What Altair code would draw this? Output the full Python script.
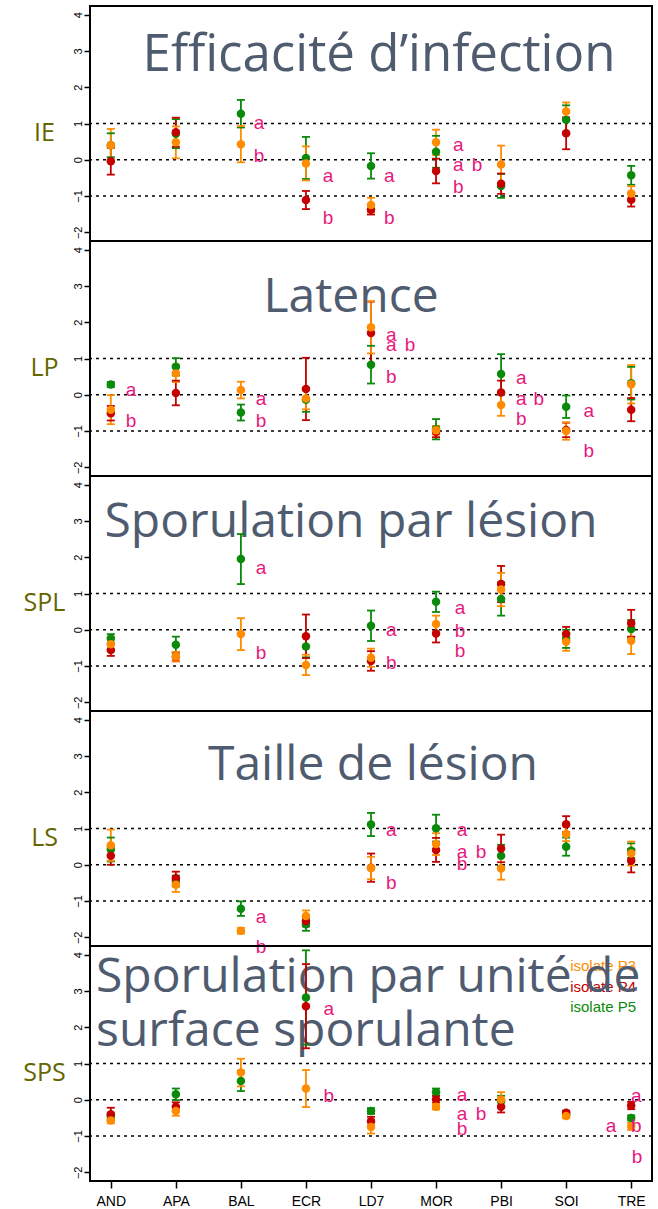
import json
import altair as alt
import pandas as pd

# Cultivars on the x axis
cats = ["AND", "APA", "BAL", "ECR", "LD7", "MOR", "PBI", "SOI", "TRE"]

# Drawing order of the isolates (P3 ends up on top)
draw_order = ["P5", "P4", "P3"]
iso_colors = {"P3": "#FF8C00", "P4": "#C40000", "P5": "#0A8A0A"}

# Standardised means and standard errors per trait and isolate (None = not tested)
ie_mean = {
    "P3": [0.40, 0.48, 0.43, -0.10, -1.25, 0.48, -0.13, 1.33, -0.93],
    "P4": [-0.04, 0.76, None, -1.11, -1.38, -0.31, -0.66, 0.73, -1.10],
    "P5": [0.40, 0.72, 1.27, 0.05, -0.17, 0.22, -0.72, 1.10, -0.43],
}
ie_se = {
    "P3": [0.45, 0.44, 0.50, 0.47, 0.20, 0.35, 0.52, 0.25, 0.20],
    "P4": [0.37, 0.40, None, 0.25, 0.13, 0.34, 0.28, 0.44, 0.19],
    "P5": [0.33, 0.40, 0.38, 0.58, 0.35, 0.44, 0.33, 0.40, 0.26],
}

lp_mean = {
    "P3": [-0.41, 0.59, 0.13, -0.10, 1.86, -0.98, -0.28, -1.00, 0.29],
    "P4": [-0.51, 0.05, None, 0.16, 1.70, -1.02, 0.06, -0.97, -0.41],
    "P5": [0.28, 0.77, -0.49, -0.14, 0.83, -0.95, 0.57, -0.33, 0.32],
}
lp_se = {
    "P3": [0.40, 0.24, 0.23, 0.30, 0.72, 0.12, 0.30, 0.24, 0.53],
    "P4": [0.20, 0.34, None, 0.86, 0.87, 0.15, 0.33, 0.20, 0.32],
    "P5": [0.07, 0.24, 0.22, 0.33, 0.52, 0.28, 0.55, 0.31, 0.45],
}

spl_mean = {
    "P3": [-0.40, -0.74, -0.12, -0.97, -0.77, 0.16, 1.11, -0.33, -0.30],
    "P4": [-0.56, -0.75, None, -0.18, -0.86, -0.10, 1.26, -0.12, 0.18],
    "P5": [-0.24, -0.41, 1.95, -0.46, 0.11, 0.77, 0.85, -0.25, 0.02],
}
spl_se = {
    "P3": [0.20, 0.13, 0.44, 0.28, 0.25, 0.23, 0.46, 0.25, 0.37],
    "P4": [0.16, 0.12, None, 0.60, 0.27, 0.25, 0.50, 0.20, 0.37],
    "P5": [0.12, 0.22, 0.69, 0.30, 0.42, 0.28, 0.46, 0.25, 0.25],
}

ls_mean = {
    "P3": [0.54, -0.55, -1.82, -1.41, -0.09, 0.57, -0.10, 0.85, 0.31],
    "P4": [0.25, -0.37, None, -1.55, -0.08, 0.41, 0.45, 1.12, 0.11],
    "P5": [0.42, -0.45, -1.21, -1.64, 1.11, 1.01, 0.25, 0.50, 0.39],
}
ls_se = {
    "P3": [0.43, 0.20, 0.08, 0.15, 0.31, 0.30, 0.31, 0.20, 0.33],
    "P4": [0.25, 0.18, None, 0.15, 0.39, 0.33, 0.38, 0.22, 0.32],
    "P5": [0.33, 0.15, 0.20, 0.18, 0.32, 0.37, 0.30, 0.25, 0.20],
}

sps_mean = {
    "P3": [-0.57, -0.31, 0.75, 0.31, -0.75, -0.19, 0.01, -0.45, -0.73],
    "P4": [-0.40, -0.19, None, 2.58, -0.59, 0.01, -0.19, -0.36, -0.16],
    "P5": [-0.45, 0.15, 0.52, 2.82, -0.31, 0.21, -0.04, -0.40, -0.50],
}
sps_se = {
    "P3": [0.08, 0.13, 0.38, 0.51, 0.18, 0.08, 0.20, 0.06, 0.10],
    "P4": [0.18, 0.12, None, 1.16, 0.12, 0.10, 0.16, 0.06, 0.10],
    "P5": [0.08, 0.16, 0.28, 1.30, 0.08, 0.10, 0.15, 0.06, 0.07],
}

# Significance letters: (cultivar, baseline value, letter, shift in cultivar units)
ie_letters = [
    ("BAL", 0.86, "a", 0.28), ("BAL", -0.05, "b", 0.28),
    ("ECR", -0.60, "a", 0.34), ("ECR", -1.77, "b", 0.34),
    ("LD7", -0.60, "a", 0.28), ("LD7", -1.77, "b", 0.28),
    ("MOR", 0.23, "a", 0.34), ("MOR", -0.32, "a", 0.34),
    ("MOR", -0.32, "b", 0.63), ("MOR", -0.91, "b", 0.34),
]
lp_letters = [
    ("AND", -0.03, "a", 0.31), ("AND", -0.90, "b", 0.31),
    ("BAL", -0.28, "a", 0.31), ("BAL", -0.90, "b", 0.31),
    ("LD7", 1.49, "a", 0.31), ("LD7", 1.20, "a", 0.31),
    ("LD7", 1.20, "b", 0.60), ("LD7", 0.32, "b", 0.31),
    ("PBI", 0.29, "a", 0.31), ("PBI", -0.28, "a", 0.31),
    ("PBI", -0.28, "b", 0.58), ("PBI", -0.83, "b", 0.31),
    ("SOI", -0.60, "a", 0.35), ("SOI", -1.71, "b", 0.35),
]
spl_letters = [
    ("BAL", 1.54, "a", 0.31), ("BAL", -0.81, "b", 0.31),
    ("LD7", -0.17, "a", 0.31), ("LD7", -1.09, "b", 0.31),
    ("MOR", 0.43, "a", 0.37), ("MOR", -0.19, "b", 0.37),
    ("MOR", -0.76, "b", 0.37),
]
ls_letters = [
    ("BAL", -1.61, "a", 0.31), ("BAL", -2.42, "b", 0.31),
    ("LD7", 0.80, "a", 0.31), ("LD7", -0.67, "b", 0.31),
    ("MOR", 0.80, "a", 0.40), ("MOR", 0.20, "a", 0.40),
    ("MOR", 0.20, "b", 0.69), ("MOR", -0.14, "b", 0.40),
]
sps_letters = [
    ("ECR", 2.34, "a", 0.35), ("ECR", -0.06, "b", 0.35),
    ("MOR", -0.04, "a", 0.40), ("MOR", -0.56, "a", 0.40),
    ("MOR", -0.56, "b", 0.69), ("MOR", -0.96, "b", 0.40),
    ("TRE", -0.06, "a", 0.08), ("TRE", -0.88, "a", -0.31),
    ("TRE", -0.88, "b", 0.08), ("TRE", -1.74, "b", 0.09),
]

ref_levels = [-1, 0, 1]
y_ticks = [-2, -1, 0, 1, 2, 3, 4]

TITLE_COLOR = "#4F5B6F"
LABEL_COLOR = "#666600"
LETTER_COLOR = "#E8187C"
TITLE_FONT = "Open Sans"
PLAIN_FONT = "Liberation Sans"

W, H = 562, 235
x_scale = alt.Scale(domain=[0.68, 9.32], nice=False, zero=False)
y_scale = alt.Scale(domain=[-2.24, 4.24], nice=False, zero=False)
color_scale = alt.Scale(domain=list(iso_colors), range=list(iso_colors.values()))
cat_expr = json.dumps(cats) + "[datum.value - 1]"


def points_frame(means, ses):
    rows = []
    for iso in draw_order:
        for i, cat in enumerate(cats):
            m, s = means[iso][i], ses[iso][i]
            if m is None:
                continue
            rows.append({"x": i + 1, "cat": cat, "iso": iso, "mean": m,
                         "lo": m - s, "hi": m + s})
    return pd.DataFrame(rows)


def letters_frame(letters):
    return pd.DataFrame([
        {"lx": cats.index(c) + 1 + shift, "ly": v, "txt": t}
        for c, v, t, shift in letters
    ])


def panel(label, means, ses, letters, titles, bottom=False, legend=False):
    if bottom:
        x_axis = alt.Axis(values=list(range(1, 10)), labelExpr=cat_expr,
                          title=None, grid=False, domain=False, ticks=True,
                          tickSize=7, tickWidth=1.5, tickColor="black",
                          labelFont=PLAIN_FONT, labelFontSize=14,
                          labelColor="black", labelPadding=6)
    else:
        x_axis = None
    y_axis = alt.Axis(values=y_ticks, title=label, grid=False, domain=False,
                      tickSize=6, tickWidth=1.5, tickColor="black",
                      labelAngle=-90, labelAlign="center",
                      labelBaseline="alphabetic", labelPadding=3,
                      labelFont=PLAIN_FONT, labelFontSize=11,
                      labelColor="black",
                      titleAngle=0, titleX=-46, titleY=126,
                      titleAlign="center", titleBaseline="middle",
                      titleFont=TITLE_FONT, titleFontSize=25,
                      titleFontWeight="normal", titleColor=LABEL_COLOR)

    def X(field):
        return alt.X(field, scale=x_scale, axis=x_axis)

    def Y(field):
        return alt.Y(field, scale=y_scale, axis=y_axis)

    color = alt.Color("iso:N", scale=color_scale, legend=None)
    pts = points_frame(means, ses)

    layers = []

    if legend:
        for k, iso in enumerate(["P3", "P4", "P5"]):
            layers.append(
                alt.Chart(pd.DataFrame({"t": ["isolate " + iso]}))
                .mark_text(font=PLAIN_FONT, fontSize=15, align="right",
                           baseline="middle", color=iso_colors[iso])
                .encode(x=alt.value(546), y=alt.value(20 + 20.5 * k), text="t:N")
            )

    for txt, tx, ty, align, size in titles:
        layers.append(
            alt.Chart(pd.DataFrame({"t": [txt]}))
            .mark_text(font=TITLE_FONT, fontSize=size, align=align,
                       baseline="alphabetic", color=TITLE_COLOR)
            .encode(x=alt.value(tx), y=alt.value(ty), text="t:N")
        )

    layers.append(
        alt.Chart(pd.DataFrame({"v": ref_levels}))
        .mark_rule(color="black", strokeWidth=1.6, strokeDash=[3, 4])
        .encode(y=Y("v:Q"))
    )
    layers.append(
        alt.Chart(pts).mark_rule(strokeWidth=1.8)
        .encode(x=X("x:Q"), y=Y("lo:Q"), y2="hi:Q", color=color)
    )
    for end in ["lo", "hi"]:
        layers.append(
            alt.Chart(pts).mark_tick(orient="horizontal", size=8, thickness=1.8,
                                     opacity=1)
            .encode(x=X("x:Q"), y=Y(end + ":Q"), color=color)
        )
    layers.append(
        alt.Chart(pts).mark_circle(size=72, opacity=1)
        .encode(x=X("x:Q"), y=Y("mean:Q"), color=color)
    )
    layers.append(
        alt.Chart(letters_frame(letters))
        .mark_text(font=PLAIN_FONT, fontSize=19, align="center",
                   baseline="alphabetic", color=LETTER_COLOR)
        .encode(x=X("lx:Q"), y=Y("ly:Q"), text="txt:N")
    )
    return alt.layer(*layers).properties(width=W, height=H)


chart = alt.vconcat(
    panel("IE", ie_mean, ie_se, ie_letters,
          [("Efficacité d\u2019infection", 289, 65, "center", 51)]),
    panel("LP", lp_mean, lp_se, lp_letters,
          [("Latence", 261, 71, "center", 48)]),
    panel("SPL", spl_mean, spl_se, spl_letters,
          [("Sporulation par lésion", 261, 61, "center", 48)]),
    panel("LS", ls_mean, ls_se, ls_letters,
          [("Taille de lésion", 283, 69, "center", 48)]),
    panel("SPS", sps_mean, sps_se, sps_letters,
          [("Sporulation par unité de", 6, 46, "left", 48),
           ("surface sporulante", 6, 100, "left", 48)],
          bottom=True, legend=True),
    spacing=0,
    bounds="flush",
).properties(
    padding={"left": 21, "top": 5, "right": 4, "bottom": 0},
    background="white",
).configure_view(
    stroke="black", strokeWidth=2
)

chart.save("out.html", embed_options={"renderer": "svg", "actions": False})
